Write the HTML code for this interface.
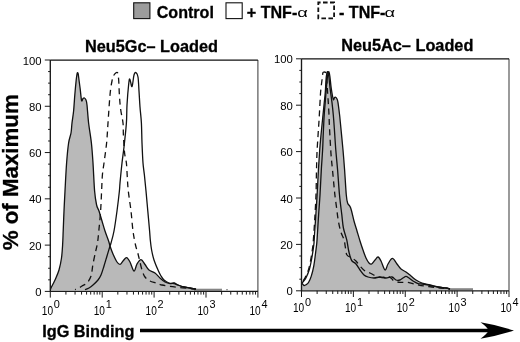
<!DOCTYPE html>
<html><head><meta charset="utf-8"><title>Figure</title>
<style>
html,body{margin:0;padding:0;background:#fff;}
svg{display:block;}
text{font-family:"Liberation Sans",Arial,Helvetica,sans-serif;fill:#000;}
.b{font-weight:bold;stroke:#000;stroke-width:0.3px;}
.tk{font-size:12.5px;}
</style></head><body>
<svg width="520" height="342" viewBox="0 0 520 342">
<rect width="520" height="342" fill="#fff"/>
<rect x="133.7" y="2.8" width="16.2" height="15.8" fill="#9c9c9c" stroke="#111" stroke-width="1.1"/>
<text class="b" x="156.7" y="17.9" font-size="16.1">Control</text>
<rect x="226" y="2.8" width="16.2" height="15.8" fill="#fff" stroke="#111" stroke-width="1.1"/>
<text class="b" x="246.8" y="17.8" font-size="16.1">+ TNF-</text>
<text transform="translate(297.3,17.3) scale(1.45,1)" font-size="12.6">α</text>
<rect x="318.3" y="2.5" width="15.8" height="15.8" fill="#fff" stroke="#111" stroke-width="1.8" stroke-dasharray="4.6,2.4" stroke-dashoffset="2.3"/>
<text class="b" x="339" y="17.8" font-size="16.1">- TNF-</text>
<text transform="translate(384.5,17.3) scale(1.45,1)" font-size="12.6">α</text>
<text class="b" x="151.5" y="52.3" font-size="16.3" text-anchor="middle">Neu5Gc– Loaded</text>
<text class="b" x="407.3" y="51.3" font-size="16.3" text-anchor="middle">Neu5Ac– Loaded</text>
<text class="b" transform="translate(17.6,250.3) rotate(-90)" font-size="22.3">% of Maximum</text>
<text class="b" x="42.2" y="336.6" font-size="16.3">IgG Binding</text>
<path d="M140,330.5 H490" stroke="#000" stroke-width="3.3" fill="none"/>
<path d="M514,330.5 Q497,325 480.5,322.3 Q487,327 488.8,330.5 Q487,334 480.5,338.7 Q497,336 514,330.5 Z" fill="#000"/>
<path d="M50.50,289.60 C50.58,289.33 50.25,289.60 51.00,288.00 C51.75,286.40 53.67,283.00 55.00,280.00 C56.33,277.00 57.92,273.67 59.00,270.00 C60.08,266.33 60.90,262.17 61.50,258.00 C62.10,253.83 62.32,249.50 62.60,245.00 C62.88,240.50 62.97,236.67 63.20,231.00 C63.43,225.33 63.70,217.67 64.00,211.00 C64.30,204.33 64.57,199.00 65.00,191.00 C65.43,183.00 66.00,171.00 66.60,163.00 C67.20,155.00 67.87,148.00 68.60,143.00 C69.33,138.00 70.43,136.33 71.00,133.00 C71.57,129.67 71.57,126.67 72.00,123.00 C72.43,119.33 73.13,115.67 73.60,111.00 C74.07,106.33 74.37,100.17 74.80,95.00 C75.23,89.83 75.82,83.57 76.20,80.00 C76.58,76.43 76.87,74.82 77.10,73.60 C77.33,72.38 77.42,72.67 77.60,72.70 C77.78,72.73 77.97,72.58 78.20,73.80 C78.43,75.02 78.67,77.47 79.00,80.00 C79.33,82.53 79.77,85.57 80.20,89.00 C80.63,92.43 81.13,99.00 81.60,100.60 C82.07,102.20 82.53,99.03 83.00,98.60 C83.47,98.17 83.90,97.77 84.40,98.00 C84.90,98.23 85.57,98.83 86.00,100.00 C86.43,101.17 86.57,101.17 87.00,105.00 C87.43,108.83 87.87,116.67 88.60,123.00 C89.33,129.33 90.67,136.33 91.40,143.00 C92.13,149.67 92.47,155.00 93.00,163.00 C93.53,171.00 94.00,184.00 94.60,191.00 C95.20,198.00 95.87,201.67 96.60,205.00 C97.33,208.33 98.10,208.33 99.00,211.00 C99.90,213.67 101.00,217.67 102.00,221.00 C103.00,224.33 103.90,227.67 105.00,231.00 C106.10,234.33 107.77,238.50 108.60,241.00 C109.43,243.50 109.27,243.83 110.00,246.00 C110.73,248.17 111.83,251.33 113.00,254.00 C114.17,256.67 115.83,260.27 117.00,262.00 C118.17,263.73 119.00,264.57 120.00,264.40 C121.00,264.23 121.90,262.13 123.00,261.00 C124.10,259.87 125.43,257.43 126.60,257.60 C127.77,257.77 128.77,259.77 130.00,262.00 C131.23,264.23 132.83,270.67 134.00,271.00 C135.17,271.33 135.83,265.90 137.00,264.00 C138.17,262.10 139.67,259.52 141.00,259.60 C142.33,259.68 143.67,262.77 145.00,264.50 C146.33,266.23 147.33,268.58 149.00,270.00 C150.67,271.42 153.17,271.67 155.00,273.00 C156.83,274.33 158.33,276.50 160.00,278.00 C161.67,279.50 163.33,281.07 165.00,282.00 C166.67,282.93 168.50,283.43 170.00,283.60 C171.50,283.77 172.67,282.77 174.00,283.00 C175.33,283.23 176.33,284.33 178.00,285.00 C179.67,285.67 182.00,286.50 184.00,287.00 C186.00,287.50 188.00,287.63 190.00,288.00 C192.00,288.37 190.67,288.93 196.00,289.20 C201.33,289.47 217.67,289.53 222.00,289.60 L222,290.6 L50.5,290.6 Z" fill="#b9b9b9" stroke="none"/>
<path d="M194,289.7 H222" stroke="#858585" stroke-width="2" fill="none"/>
<path d="M50.50,289.60 C50.58,289.33 50.25,289.60 51.00,288.00 C51.75,286.40 53.67,283.00 55.00,280.00 C56.33,277.00 57.92,273.67 59.00,270.00 C60.08,266.33 60.90,262.17 61.50,258.00 C62.10,253.83 62.32,249.50 62.60,245.00 C62.88,240.50 62.97,236.67 63.20,231.00 C63.43,225.33 63.70,217.67 64.00,211.00 C64.30,204.33 64.57,199.00 65.00,191.00 C65.43,183.00 66.00,171.00 66.60,163.00 C67.20,155.00 67.87,148.00 68.60,143.00 C69.33,138.00 70.43,136.33 71.00,133.00 C71.57,129.67 71.57,126.67 72.00,123.00 C72.43,119.33 73.13,115.67 73.60,111.00 C74.07,106.33 74.37,100.17 74.80,95.00 C75.23,89.83 75.82,83.57 76.20,80.00 C76.58,76.43 76.87,74.82 77.10,73.60 C77.33,72.38 77.42,72.67 77.60,72.70 C77.78,72.73 77.97,72.58 78.20,73.80 C78.43,75.02 78.67,77.47 79.00,80.00 C79.33,82.53 79.77,85.57 80.20,89.00 C80.63,92.43 81.13,99.00 81.60,100.60 C82.07,102.20 82.53,99.03 83.00,98.60 C83.47,98.17 83.90,97.77 84.40,98.00 C84.90,98.23 85.57,98.83 86.00,100.00 C86.43,101.17 86.57,101.17 87.00,105.00 C87.43,108.83 87.87,116.67 88.60,123.00 C89.33,129.33 90.67,136.33 91.40,143.00 C92.13,149.67 92.47,155.00 93.00,163.00 C93.53,171.00 94.00,184.00 94.60,191.00 C95.20,198.00 95.87,201.67 96.60,205.00 C97.33,208.33 98.10,208.33 99.00,211.00 C99.90,213.67 101.00,217.67 102.00,221.00 C103.00,224.33 103.90,227.67 105.00,231.00 C106.10,234.33 107.77,238.50 108.60,241.00 C109.43,243.50 109.27,243.83 110.00,246.00 C110.73,248.17 111.83,251.33 113.00,254.00 C114.17,256.67 115.83,260.27 117.00,262.00 C118.17,263.73 119.00,264.57 120.00,264.40 C121.00,264.23 121.90,262.13 123.00,261.00 C124.10,259.87 125.43,257.43 126.60,257.60 C127.77,257.77 128.77,259.77 130.00,262.00 C131.23,264.23 132.83,270.67 134.00,271.00 C135.17,271.33 135.83,265.90 137.00,264.00 C138.17,262.10 139.67,259.52 141.00,259.60 C142.33,259.68 143.67,262.77 145.00,264.50 C146.33,266.23 147.33,268.58 149.00,270.00 C150.67,271.42 153.17,271.67 155.00,273.00 C156.83,274.33 158.33,276.50 160.00,278.00 C161.67,279.50 163.33,281.07 165.00,282.00 C166.67,282.93 168.50,283.43 170.00,283.60 C171.50,283.77 172.67,282.77 174.00,283.00 C175.33,283.23 176.33,284.33 178.00,285.00 C179.67,285.67 182.00,286.50 184.00,287.00 C186.00,287.50 188.00,287.63 190.00,288.00 C192.00,288.37 195.00,289.00 196.00,289.20" fill="none" stroke="#111" stroke-width="1.3" stroke-linejoin="round"/>
<path d="M85.00,289.60 C85.67,289.33 87.67,288.77 89.00,288.00 C90.33,287.23 91.50,286.33 93.00,285.00 C94.50,283.67 96.67,281.67 98.00,280.00 C99.33,278.33 100.00,277.33 101.00,275.00 C102.00,272.67 103.00,269.17 104.00,266.00 C105.00,262.83 106.00,259.33 107.00,256.00 C108.00,252.67 109.33,248.17 110.00,246.00 C110.67,243.83 110.33,245.50 111.00,243.00 C111.67,240.50 113.00,236.33 114.00,231.00 C115.00,225.67 116.10,217.67 117.00,211.00 C117.90,204.33 118.90,195.67 119.40,191.00 C119.90,186.33 119.57,187.67 120.00,183.00 C120.43,178.33 121.33,169.00 122.00,163.00 C122.67,157.00 123.27,153.67 124.00,147.00 C124.73,140.33 125.90,130.00 126.40,123.00 C126.90,116.00 126.63,111.33 127.00,105.00 C127.37,98.67 128.13,89.33 128.60,85.00 C129.07,80.67 129.23,78.73 129.80,79.00 C130.37,79.27 131.30,87.27 132.00,86.60 C132.70,85.93 133.33,77.33 134.00,75.00 C134.67,72.67 135.33,72.27 136.00,72.60 C136.67,72.93 137.50,73.93 138.00,77.00 C138.50,80.07 138.67,86.00 139.00,91.00 C139.33,96.00 139.60,101.67 140.00,107.00 C140.40,112.33 141.07,117.00 141.40,123.00 C141.73,129.00 141.73,136.33 142.00,143.00 C142.27,149.67 142.60,157.67 143.00,163.00 C143.40,168.33 143.90,170.33 144.40,175.00 C144.90,179.67 145.43,185.00 146.00,191.00 C146.57,197.00 147.20,204.33 147.80,211.00 C148.40,217.67 149.18,226.17 149.60,231.00 C150.02,235.83 149.97,236.83 150.30,240.00 C150.63,243.17 150.98,246.67 151.60,250.00 C152.22,253.33 152.93,256.67 154.00,260.00 C155.07,263.33 156.83,267.33 158.00,270.00 C159.17,272.67 160.00,274.33 161.00,276.00 C162.00,277.67 162.67,278.83 164.00,280.00 C165.33,281.17 167.33,282.42 169.00,283.00 C170.67,283.58 172.50,283.17 174.00,283.50 C175.50,283.83 176.33,284.42 178.00,285.00 C179.67,285.58 182.00,286.50 184.00,287.00 C186.00,287.50 188.00,287.63 190.00,288.00 C192.00,288.37 195.00,289.00 196.00,289.20" fill="none" stroke="#111" stroke-width="1.3" stroke-linejoin="round"/>
<path d="M75.00,289.60 C75.50,289.43 76.83,289.20 78.00,288.60 C79.17,288.00 80.50,286.93 82.00,286.00 C83.50,285.07 85.50,284.67 87.00,283.00 C88.50,281.33 90.00,279.17 91.00,276.00 C92.00,272.83 92.25,268.00 93.00,264.00 C93.75,260.00 94.75,255.50 95.50,252.00 C96.25,248.50 96.95,246.50 97.50,243.00 C98.05,239.50 98.28,236.33 98.80,231.00 C99.32,225.67 100.13,217.67 100.60,211.00 C101.07,204.33 101.30,197.00 101.60,191.00 C101.90,185.00 102.00,179.67 102.40,175.00 C102.80,170.33 103.30,168.33 104.00,163.00 C104.70,157.67 105.93,149.67 106.60,143.00 C107.27,136.33 107.43,131.00 108.00,123.00 C108.57,115.00 109.33,102.00 110.00,95.00 C110.67,88.00 111.33,84.33 112.00,81.00 C112.67,77.67 113.10,76.40 114.00,75.00 C114.90,73.60 116.63,71.93 117.40,72.60 C118.17,73.27 118.27,75.27 118.60,79.00 C118.93,82.73 119.07,90.00 119.40,95.00 C119.73,100.00 120.00,104.33 120.60,109.00 C121.20,113.67 122.53,118.67 123.00,123.00 C123.47,127.33 123.13,130.00 123.40,135.00 C123.67,140.00 124.10,148.33 124.60,153.00 C125.10,157.67 125.93,158.67 126.40,163.00 C126.87,167.33 127.08,174.33 127.40,179.00 C127.72,183.67 127.70,185.67 128.30,191.00 C128.90,196.33 130.22,204.33 131.00,211.00 C131.78,217.67 132.25,225.33 133.00,231.00 C133.75,236.67 134.70,241.33 135.50,245.00 C136.30,248.67 137.13,250.50 137.80,253.00 C138.47,255.50 138.80,257.17 139.50,260.00 C140.20,262.83 141.08,267.17 142.00,270.00 C142.92,272.83 143.67,275.17 145.00,277.00 C146.33,278.83 148.17,280.00 150.00,281.00 C151.83,282.00 154.00,282.33 156.00,283.00 C158.00,283.67 159.67,284.43 162.00,285.00 C164.33,285.57 167.00,285.97 170.00,286.40 C173.00,286.83 176.67,287.25 180.00,287.60 C183.33,287.95 187.33,288.23 190.00,288.50 C192.67,288.77 195.00,289.08 196.00,289.20" fill="none" stroke="#111" stroke-width="1.3" stroke-dasharray="6,4.4" stroke-dashoffset="4.80" stroke-linejoin="round"/>
<rect x="226.3" y="289" width="1.4" height="1.3" fill="#777"/>
<path d="M257.9,60.0 V291.4" fill="none" stroke="#484848" stroke-width="1.1"/>
<path d="M50.3,60.0 H257.9" fill="none" stroke="#111" stroke-width="1.25"/>
<path d="M50.3,60.0 V291.4 H257.9" fill="none" stroke="#1a1a1a" stroke-width="1.35"/>
<path d="M44.80,291.40H50.3M48.10,279.83H50.3M48.10,268.26H50.3M48.10,256.69H50.3M44.80,245.12H50.3M48.10,233.55H50.3M48.10,221.98H50.3M48.10,210.41H50.3M44.80,198.84H50.3M48.10,187.27H50.3M48.10,175.70H50.3M48.10,164.13H50.3M44.80,152.56H50.3M48.10,140.99H50.3M48.10,129.42H50.3M48.10,117.85H50.3M44.80,106.28H50.3M48.10,94.71H50.3M48.10,83.14H50.3M48.10,71.57H50.3M44.80,60.00H50.3" fill="none" stroke="#1a1a1a" stroke-width="1"/>
<path d="M50.30,291.4V297.60M65.92,291.4V294.60M75.06,291.4V294.60M81.55,291.4V294.60M86.58,291.4V294.60M90.69,291.4V294.60M94.16,291.4V294.60M97.17,291.4V294.60M99.83,291.4V294.60M102.20,291.4V297.60M117.82,291.4V294.60M126.96,291.4V294.60M133.45,291.4V294.60M138.48,291.4V294.60M142.59,291.4V294.60M146.06,291.4V294.60M149.07,291.4V294.60M151.73,291.4V294.60M154.10,291.4V297.60M169.72,291.4V294.60M178.86,291.4V294.60M185.35,291.4V294.60M190.38,291.4V294.60M194.49,291.4V294.60M197.96,291.4V294.60M200.97,291.4V294.60M203.63,291.4V294.60M206.00,291.4V297.60M221.62,291.4V294.60M230.76,291.4V294.60M237.25,291.4V294.60M242.28,291.4V294.60M246.39,291.4V294.60M249.86,291.4V294.60M252.87,291.4V294.60M255.53,291.4V294.60M257.90,291.4V297.60" fill="none" stroke="#1a1a1a" stroke-width="1"/>
<text x="41.5" y="296.00" font-size="11.3" text-anchor="end">0</text>
<text x="41.5" y="249.72" font-size="11.3" text-anchor="end">20</text>
<text x="41.5" y="203.44" font-size="11.3" text-anchor="end">40</text>
<text x="41.5" y="157.16" font-size="11.3" text-anchor="end">60</text>
<text x="41.5" y="110.88" font-size="11.3" text-anchor="end">80</text>
<text x="41.5" y="64.60" font-size="11.3" text-anchor="end">100</text>
<text class="tk" transform="translate(41.80,314.80) scale(0.81,1)">10</text>
<text transform="translate(53.80,308.40) scale(1.05,1)" font-size="10.4">0</text>
<text class="tk" transform="translate(93.70,314.80) scale(0.81,1)">10</text>
<text transform="translate(105.70,308.40) scale(1.05,1)" font-size="10.4">1</text>
<text class="tk" transform="translate(145.60,314.80) scale(0.81,1)">10</text>
<text transform="translate(157.60,308.40) scale(1.05,1)" font-size="10.4">2</text>
<text class="tk" transform="translate(197.50,314.80) scale(0.81,1)">10</text>
<text transform="translate(209.50,308.40) scale(1.05,1)" font-size="10.4">3</text>
<text class="tk" transform="translate(249.40,314.80) scale(0.81,1)">10</text>
<text transform="translate(261.40,308.40) scale(1.05,1)" font-size="10.4">4</text>
<path d="M301.80,283.20 C301.97,283.37 302.43,283.82 302.80,284.20 C303.17,284.58 303.47,285.40 304.00,285.50 C304.53,285.60 305.25,285.30 306.00,284.80 C306.75,284.30 307.63,283.90 308.50,282.50 C309.37,281.10 310.32,279.18 311.20,276.40 C312.08,273.62 313.08,269.62 313.80,265.80 C314.52,261.98 315.03,257.30 315.50,253.50 C315.97,249.70 316.42,246.58 316.60,243.00 C316.78,239.42 316.70,235.50 316.60,232.00 C316.50,228.50 315.92,228.17 316.00,222.00 C316.08,215.83 316.70,203.67 317.10,195.00 C317.50,186.33 317.97,177.50 318.40,170.00 C318.83,162.50 319.27,155.83 319.70,150.00 C320.13,144.17 320.53,140.00 321.00,135.00 C321.47,130.00 322.00,125.00 322.50,120.00 C323.00,115.00 323.53,109.67 324.00,105.00 C324.47,100.33 324.97,96.17 325.30,92.00 C325.63,87.83 325.73,83.20 326.00,80.00 C326.27,76.80 326.60,74.15 326.90,72.80 C327.20,71.45 327.45,72.02 327.80,71.90 C328.15,71.78 328.65,71.33 329.00,72.10 C329.35,72.87 329.53,73.85 329.90,76.50 C330.27,79.15 330.63,84.18 331.20,88.00 C331.77,91.82 332.75,97.80 333.30,99.40 C333.85,101.00 334.12,97.95 334.50,97.60 C334.88,97.25 335.18,97.07 335.60,97.30 C336.02,97.53 336.60,98.12 337.00,99.00 C337.40,99.88 337.57,99.93 338.00,102.60 C338.43,105.27 339.20,111.60 339.60,115.00 C340.00,118.40 339.83,117.17 340.40,123.00 C340.97,128.83 342.30,142.17 343.00,150.00 C343.70,157.83 344.05,162.50 344.60,170.00 C345.15,177.50 345.80,189.50 346.30,195.00 C346.80,200.50 346.87,200.83 347.60,203.00 C348.33,205.17 349.63,205.00 350.70,208.00 C351.77,211.00 352.95,217.17 354.00,221.00 C355.05,224.83 356.00,227.67 357.00,231.00 C358.00,234.33 359.00,237.83 360.00,241.00 C361.00,244.17 362.00,247.17 363.00,250.00 C364.00,252.83 365.00,255.83 366.00,258.00 C367.00,260.17 368.07,262.00 369.00,263.00 C369.93,264.00 370.60,264.50 371.60,264.00 C372.60,263.50 373.93,261.17 375.00,260.00 C376.07,258.83 377.00,256.83 378.00,257.00 C379.00,257.17 379.83,258.83 381.00,261.00 C382.17,263.17 383.83,269.50 385.00,270.00 C386.17,270.50 386.77,265.93 388.00,264.00 C389.23,262.07 390.90,258.40 392.40,258.40 C393.90,258.40 395.57,262.23 397.00,264.00 C398.43,265.77 399.50,267.67 401.00,269.00 C402.50,270.33 404.33,270.83 406.00,272.00 C407.67,273.17 409.33,274.67 411.00,276.00 C412.67,277.33 414.17,278.83 416.00,280.00 C417.83,281.17 419.67,282.17 422.00,283.00 C424.33,283.83 427.33,284.33 430.00,285.00 C432.67,285.67 435.33,286.50 438.00,287.00 C440.67,287.50 444.00,287.67 446.00,288.00 C448.00,288.33 445.50,288.75 450.00,289.00 C454.50,289.25 469.17,289.42 473.00,289.50 L473,290.2 L301.5,290.2 Z" fill="#b9b9b9" stroke="none"/>
<path d="M448,289.2 H473" stroke="#858585" stroke-width="2" fill="none"/>
<path d="M301.80,283.20 C301.97,283.37 302.43,283.82 302.80,284.20 C303.17,284.58 303.47,285.40 304.00,285.50 C304.53,285.60 305.25,285.30 306.00,284.80 C306.75,284.30 307.63,283.90 308.50,282.50 C309.37,281.10 310.32,279.18 311.20,276.40 C312.08,273.62 313.08,269.62 313.80,265.80 C314.52,261.98 315.00,257.30 315.50,253.50 C316.00,249.70 316.50,245.92 316.80,243.00 C317.10,240.08 317.00,240.67 317.30,236.00 C317.60,231.33 318.15,221.83 318.60,215.00 C319.05,208.17 319.55,202.50 320.00,195.00 C320.45,187.50 320.87,177.50 321.30,170.00 C321.73,162.50 322.27,156.17 322.60,150.00 C322.93,143.83 323.03,138.83 323.30,133.00 C323.57,127.17 323.88,120.07 324.20,115.00 C324.52,109.93 324.87,106.77 325.20,102.60 C325.53,98.43 325.85,94.10 326.20,90.00 C326.55,85.90 326.97,80.90 327.30,78.00 C327.63,75.10 327.92,73.58 328.20,72.60 C328.48,71.62 328.72,71.45 329.00,72.10 C329.28,72.75 329.53,73.85 329.90,76.50 C330.27,79.15 330.63,84.18 331.20,88.00 C331.77,91.82 332.75,97.80 333.30,99.40 C333.85,101.00 334.12,97.95 334.50,97.60 C334.88,97.25 335.18,97.07 335.60,97.30 C336.02,97.53 336.60,98.12 337.00,99.00 C337.40,99.88 337.57,99.93 338.00,102.60 C338.43,105.27 339.20,111.60 339.60,115.00 C340.00,118.40 339.83,117.17 340.40,123.00 C340.97,128.83 342.30,142.17 343.00,150.00 C343.70,157.83 344.05,162.50 344.60,170.00 C345.15,177.50 345.80,189.50 346.30,195.00 C346.80,200.50 346.87,200.83 347.60,203.00 C348.33,205.17 349.63,205.00 350.70,208.00 C351.77,211.00 352.95,217.17 354.00,221.00 C355.05,224.83 356.00,227.67 357.00,231.00 C358.00,234.33 359.00,237.83 360.00,241.00 C361.00,244.17 362.00,247.17 363.00,250.00 C364.00,252.83 365.00,255.83 366.00,258.00 C367.00,260.17 368.07,262.00 369.00,263.00 C369.93,264.00 370.60,264.50 371.60,264.00 C372.60,263.50 373.93,261.17 375.00,260.00 C376.07,258.83 377.00,256.83 378.00,257.00 C379.00,257.17 379.83,258.83 381.00,261.00 C382.17,263.17 383.83,269.50 385.00,270.00 C386.17,270.50 386.77,265.93 388.00,264.00 C389.23,262.07 390.90,258.40 392.40,258.40 C393.90,258.40 395.57,262.23 397.00,264.00 C398.43,265.77 399.50,267.67 401.00,269.00 C402.50,270.33 404.33,270.83 406.00,272.00 C407.67,273.17 409.33,274.67 411.00,276.00 C412.67,277.33 414.17,278.83 416.00,280.00 C417.83,281.17 419.67,282.17 422.00,283.00 C424.33,283.83 427.33,284.33 430.00,285.00 C432.67,285.67 435.33,286.50 438.00,287.00 C440.67,287.50 444.00,287.67 446.00,288.00 C448.00,288.33 449.33,288.83 450.00,289.00" fill="none" stroke="#111" stroke-width="1.3" stroke-linejoin="round"/>
<path d="M301.80,283.40 C301.93,283.23 301.92,283.30 302.60,282.40 C303.28,281.50 304.77,280.18 305.90,278.00 C307.03,275.82 308.38,272.80 309.40,269.30 C310.42,265.80 311.27,261.08 312.00,257.00 C312.73,252.92 313.43,247.68 313.80,244.80 C314.17,241.92 313.92,243.83 314.20,239.70 C314.48,235.57 315.02,227.45 315.50,220.00 C315.98,212.55 316.62,203.33 317.10,195.00 C317.58,186.67 317.97,177.50 318.40,170.00 C318.83,162.50 319.27,155.83 319.70,150.00 C320.13,144.17 320.53,140.00 321.00,135.00 C321.47,130.00 322.00,125.00 322.50,120.00 C323.00,115.00 323.53,109.67 324.00,105.00 C324.47,100.33 324.97,96.17 325.30,92.00 C325.63,87.83 325.73,83.20 326.00,80.00 C326.27,76.80 326.60,74.15 326.90,72.80 C327.20,71.45 327.48,71.28 327.80,71.90 C328.12,72.52 328.38,73.48 328.80,76.50 C329.22,79.52 329.77,85.65 330.30,90.00 C330.83,94.35 331.50,98.43 332.00,102.60 C332.50,106.77 332.92,110.77 333.30,115.00 C333.68,119.23 333.88,122.17 334.30,128.00 C334.72,133.83 335.25,143.00 335.80,150.00 C336.35,157.00 336.98,162.50 337.60,170.00 C338.22,177.50 338.80,187.55 339.50,195.00 C340.20,202.45 341.15,209.20 341.80,214.70 C342.45,220.20 342.58,223.83 343.40,228.00 C344.22,232.17 345.85,236.03 346.70,239.70 C347.55,243.37 347.95,247.28 348.50,250.00 C349.05,252.72 349.42,254.17 350.00,256.00 C350.58,257.83 351.00,259.67 352.00,261.00 C353.00,262.33 354.67,262.50 356.00,264.00 C357.33,265.50 358.67,268.17 360.00,270.00 C361.33,271.83 362.67,273.83 364.00,275.00 C365.33,276.17 366.33,276.50 368.00,277.00 C369.67,277.50 372.00,278.00 374.00,278.00 C376.00,278.00 378.00,277.00 380.00,277.00 C382.00,277.00 384.00,278.00 386.00,278.00 C388.00,278.00 390.33,276.67 392.00,277.00 C393.67,277.33 394.67,279.50 396.00,280.00 C397.33,280.50 398.83,280.33 400.00,280.00 C401.17,279.67 402.00,278.60 403.00,278.00 C404.00,277.40 405.00,276.40 406.00,276.40 C407.00,276.40 407.83,277.23 409.00,278.00 C410.17,278.77 411.50,280.07 413.00,281.00 C414.50,281.93 416.50,283.10 418.00,283.60 C419.50,284.10 420.00,283.68 422.00,284.00 C424.00,284.32 427.33,285.00 430.00,285.50 C432.67,286.00 435.33,286.58 438.00,287.00 C440.67,287.42 444.00,287.67 446.00,288.00 C448.00,288.33 449.33,288.83 450.00,289.00" fill="none" stroke="#111" stroke-width="1.3" stroke-linejoin="round"/>
<path d="M301.80,282.60 C302.37,281.77 304.05,279.88 305.20,277.60 C306.35,275.32 307.68,272.40 308.70,268.90 C309.72,265.40 310.58,260.62 311.30,256.60 C312.02,252.58 312.65,247.62 313.00,244.80 C313.35,241.98 313.12,243.83 313.40,239.70 C313.68,235.57 314.27,227.50 314.70,220.00 C315.13,212.50 315.70,203.03 316.00,194.70 C316.30,186.37 316.33,177.02 316.50,170.00 C316.67,162.98 316.72,158.80 317.00,152.60 C317.28,146.40 317.87,138.07 318.20,132.80 C318.53,127.53 318.70,126.03 319.00,121.00 C319.30,115.97 319.72,107.60 320.00,102.60 C320.28,97.60 320.37,94.77 320.70,91.00 C321.03,87.23 321.67,82.83 322.00,80.00 C322.33,77.17 322.53,75.25 322.70,74.00 C322.87,72.75 322.78,72.82 323.00,72.50 C323.22,72.18 323.67,72.17 324.00,72.10 C324.33,72.03 324.67,71.87 325.00,72.10 C325.33,72.33 325.73,72.52 326.00,73.50 C326.27,74.48 326.40,75.92 326.60,78.00 C326.80,80.08 327.03,83.58 327.20,86.00 C327.37,88.42 327.42,89.73 327.60,92.50 C327.78,95.27 328.07,98.85 328.30,102.60 C328.53,106.35 328.80,110.82 329.00,115.00 C329.20,119.18 329.17,121.20 329.50,127.70 C329.83,134.20 330.50,146.95 331.00,154.00 C331.50,161.05 331.97,164.33 332.50,170.00 C333.03,175.67 333.80,183.83 334.20,188.00 C334.60,192.17 334.50,191.67 334.90,195.00 C335.30,198.33 336.02,203.62 336.60,208.00 C337.18,212.38 337.70,217.33 338.40,221.30 C339.10,225.27 339.87,228.73 340.80,231.80 C341.73,234.87 343.22,237.00 344.00,239.70 C344.78,242.40 345.00,245.45 345.50,248.00 C346.00,250.55 345.92,253.33 347.00,255.00 C348.08,256.67 350.50,257.00 352.00,258.00 C353.50,259.00 354.67,259.67 356.00,261.00 C357.33,262.33 358.50,264.33 360.00,266.00 C361.50,267.67 363.33,269.83 365.00,271.00 C366.67,272.17 368.17,272.17 370.00,273.00 C371.83,273.83 374.00,275.23 376.00,276.00 C378.00,276.77 380.00,277.52 382.00,277.60 C384.00,277.68 386.33,276.27 388.00,276.50 C389.67,276.73 391.00,278.25 392.00,279.00 C393.00,279.75 392.67,280.43 394.00,281.00 C395.33,281.57 397.67,282.17 400.00,282.40 C402.33,282.63 405.33,282.07 408.00,282.40 C410.67,282.73 413.33,283.80 416.00,284.40 C418.67,285.00 421.33,285.57 424.00,286.00 C426.67,286.43 429.33,286.67 432.00,287.00 C434.67,287.33 437.00,287.67 440.00,288.00 C443.00,288.33 448.33,288.83 450.00,289.00" fill="none" stroke="#111" stroke-width="1.3" stroke-dasharray="6,4.4" stroke-dashoffset="8.27" stroke-linejoin="round"/>
<path d="M509,58.8 V290.8" fill="none" stroke="#484848" stroke-width="1.1"/>
<path d="M301.5,58.8 H509" fill="none" stroke="#111" stroke-width="1.25"/>
<path d="M301.5,58.8 V290.8 H509" fill="none" stroke="#1a1a1a" stroke-width="1.35"/>
<path d="M296.00,290.80H301.5M299.30,279.20H301.5M299.30,267.60H301.5M299.30,256.00H301.5M296.00,244.40H301.5M299.30,232.80H301.5M299.30,221.20H301.5M299.30,209.60H301.5M296.00,198.00H301.5M299.30,186.40H301.5M299.30,174.80H301.5M299.30,163.20H301.5M296.00,151.60H301.5M299.30,140.00H301.5M299.30,128.40H301.5M299.30,116.80H301.5M296.00,105.20H301.5M299.30,93.60H301.5M299.30,82.00H301.5M299.30,70.40H301.5M296.00,58.80H301.5" fill="none" stroke="#1a1a1a" stroke-width="1"/>
<path d="M301.50,290.8V297.00M317.12,290.8V294.00M326.25,290.8V294.00M332.73,290.8V294.00M337.76,290.8V294.00M341.87,290.8V294.00M345.34,290.8V294.00M348.35,290.8V294.00M351.00,290.8V294.00M353.38,290.8V297.00M368.99,290.8V294.00M378.13,290.8V294.00M384.61,290.8V294.00M389.63,290.8V294.00M393.74,290.8V294.00M397.21,290.8V294.00M400.22,290.8V294.00M402.88,290.8V294.00M405.25,290.8V297.00M420.87,290.8V294.00M430.00,290.8V294.00M436.48,290.8V294.00M441.51,290.8V294.00M445.62,290.8V294.00M449.09,290.8V294.00M452.10,290.8V294.00M454.75,290.8V294.00M457.12,290.8V297.00M472.74,290.8V294.00M481.88,290.8V294.00M488.36,290.8V294.00M493.38,290.8V294.00M497.49,290.8V294.00M500.96,290.8V294.00M503.97,290.8V294.00M506.63,290.8V294.00M509.00,290.8V297.00" fill="none" stroke="#1a1a1a" stroke-width="1"/>
<text x="292.8" y="295.40" font-size="11.3" text-anchor="end">0</text>
<text x="292.8" y="249.00" font-size="11.3" text-anchor="end">20</text>
<text x="292.8" y="202.60" font-size="11.3" text-anchor="end">40</text>
<text x="292.8" y="156.20" font-size="11.3" text-anchor="end">60</text>
<text x="292.8" y="109.80" font-size="11.3" text-anchor="end">80</text>
<text x="292.8" y="63.40" font-size="11.3" text-anchor="end">100</text>
<text class="tk" transform="translate(293.00,312.40) scale(0.81,1)">10</text>
<text transform="translate(305.00,306.00) scale(1.05,1)" font-size="10.4">0</text>
<text class="tk" transform="translate(344.88,312.40) scale(0.81,1)">10</text>
<text transform="translate(356.88,306.00) scale(1.05,1)" font-size="10.4">1</text>
<text class="tk" transform="translate(396.75,312.40) scale(0.81,1)">10</text>
<text transform="translate(408.75,306.00) scale(1.05,1)" font-size="10.4">2</text>
<text class="tk" transform="translate(448.62,312.40) scale(0.81,1)">10</text>
<text transform="translate(460.62,306.00) scale(1.05,1)" font-size="10.4">3</text>
<text class="tk" transform="translate(500.50,312.40) scale(0.81,1)">10</text>
<text transform="translate(512.50,306.00) scale(1.05,1)" font-size="10.4">4</text>
</svg></body></html>
